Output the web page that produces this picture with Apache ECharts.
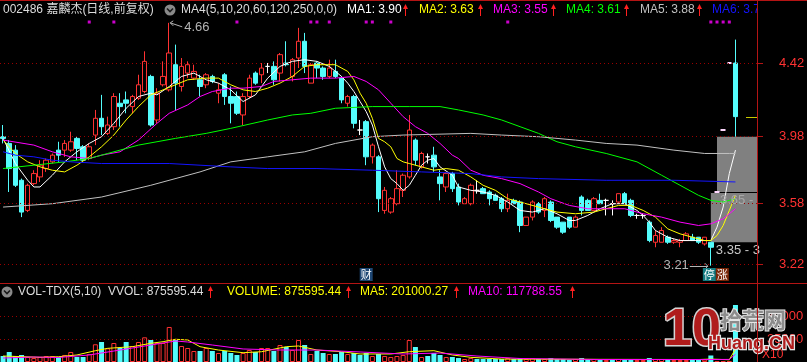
<!DOCTYPE html>
<html>
<head>
<meta charset="utf-8">
<title>002486 嘉麟杰</title>
<script src="https://cdn.jsdelivr.net/npm/echarts@6.0.0/dist/echarts.min.js"></script>
<style>
html,body{margin:0;padding:0;background:#000;overflow:hidden;}
#chart{width:807px;height:362px;}
</style>
</head>
<body>
<div id="chart"></div>
<script>
// ================= DATA =================
const slotCount = 123; // 120 trading days + 3 empty slots on the right

const opens = [3.98,3.94,3.90,3.72,3.54,3.70,3.74,3.79,3.83,3.90,
3.90,3.90,3.97,3.92,3.85,3.99,4.09,4.00,4.04,4.18,
4.20,4.16,4.21,4.25,4.34,4.08,4.29,4.26,4.41,4.28,
4.36,4.33,4.32,4.29,4.34,4.24,4.35,4.22,4.22,4.11,
4.22,4.36,4.35,4.40,4.40,4.36,4.42,4.34,4.45,4.55,
4.30,4.42,4.39,4.34,4.37,4.33,4.18,4.22,4.02,4.07,
3.86,3.86,3.54,3.53,3.58,3.66,3.74,3.96,3.80,3.86,
3.87,3.74,3.68,3.76,3.68,3.58,3.58,3.66,3.67,3.65,
3.63,3.61,3.55,3.60,3.59,3.45,3.50,3.58,3.54,3.59,
3.50,3.47,3.50,3.44,3.62,3.60,3.54,3.60,3.60,3.58,
3.59,3.64,3.60,3.51,3.51,3.47,3.35,3.35,3.38,3.35,
3.35,3.36,3.38,3.38,3.34,3.35,3.65,4.02,4.42,4.42];

const closes = [3.97,3.79,3.69,3.53,3.69,3.76,3.81,3.84,3.87,3.87,
3.94,3.95,3.91,3.84,3.92,4.09,4.04,4.05,4.22,4.16,
4.18,4.22,4.29,4.43,4.05,4.24,4.34,4.48,4.30,4.40,
4.41,4.37,4.28,4.35,4.31,4.26,4.22,4.18,4.12,4.22,
4.33,4.30,4.39,4.40,4.32,4.47,4.41,4.44,4.55,4.40,
4.41,4.39,4.34,4.39,4.34,4.20,4.22,4.06,4.02,3.86,
3.93,3.61,3.66,3.61,3.67,3.75,4.02,3.84,3.88,3.86,
3.80,3.70,3.76,3.67,3.59,3.61,3.69,3.66,3.64,3.61,
3.60,3.55,3.60,3.58,3.45,3.50,3.59,3.53,3.61,3.48,
3.44,3.41,3.44,3.50,3.54,3.54,3.61,3.58,3.60,3.58,
3.64,3.58,3.51,3.51,3.51,3.36,3.39,3.42,3.35,3.36,
3.36,3.40,3.36,3.35,3.38,3.32,3.65,4.02,4.42,4.10];

const lows = [3.94,3.65,3.68,3.50,3.53,3.69,3.71,3.77,3.82,3.83,
3.86,3.89,3.84,3.83,3.84,3.93,3.99,3.99,4.02,4.04,
4.12,4.12,4.20,4.24,4.04,4.06,4.28,4.25,4.14,4.25,
4.33,4.32,4.22,4.27,4.30,4.18,4.17,4.06,4.11,4.05,
4.21,4.29,4.30,4.36,4.29,4.31,4.40,4.31,4.39,4.36,
4.30,4.33,4.32,4.33,4.33,4.18,4.16,4.03,3.99,3.81,
3.82,3.53,3.52,3.52,3.57,3.62,3.73,3.81,3.79,3.82,
3.77,3.60,3.65,3.65,3.57,3.58,3.57,3.64,3.64,3.57,
3.60,3.53,3.53,3.58,3.41,3.45,3.48,3.52,3.50,3.47,
3.43,3.40,3.43,3.44,3.51,3.54,3.54,3.58,3.51,3.51,
3.58,3.58,3.50,3.49,3.49,3.35,3.32,3.35,3.34,3.34,
3.32,3.36,3.36,3.34,3.33,3.21,3.65,4.02,4.42,3.98];

const highs = [4.05,3.96,3.93,3.73,3.70,3.78,3.84,3.85,3.88,3.95,
3.96,4.01,3.98,3.93,3.94,4.14,4.23,4.10,4.24,4.24,
4.25,4.23,4.35,4.49,4.35,4.27,4.43,4.66,4.53,4.45,
4.43,4.41,4.35,4.36,4.35,4.30,4.36,4.28,4.25,4.24,
4.35,4.37,4.42,4.42,4.43,4.48,4.55,4.45,4.63,4.60,
4.42,4.43,4.40,4.44,4.44,4.34,4.23,4.23,4.08,4.08,
3.94,3.87,3.68,3.62,3.78,3.76,4.11,3.97,3.89,3.88,
3.92,3.78,3.77,3.77,3.70,3.62,3.70,3.72,3.68,3.66,
3.64,3.62,3.64,3.61,3.60,3.50,3.60,3.59,3.62,3.60,
3.50,3.47,3.50,3.51,3.63,3.61,3.62,3.64,3.61,3.60,
3.64,3.65,3.61,3.52,3.52,3.48,3.42,3.44,3.39,3.37,
3.37,3.41,3.40,3.38,3.38,3.35,3.65,4.02,4.42,4.56];

const volumes = [92000,154000,92000,108000,77000,61000,77000,92000,92000,77000,
108000,154000,77000,77000,123000,272000,307000,210000,292000,215000,
307000,246000,307000,379000,338000,292000,292000,538000,338000,246000,
215000,169000,169000,215000,169000,138000,169000,138000,108000,138000,
184000,154000,215000,215000,169000,261000,230000,184000,338000,261000,
123000,169000,138000,123000,123000,154000,123000,138000,108000,138000,
92000,123000,92000,77000,92000,108000,338000,230000,77000,92000,
138000,108000,77000,77000,61000,46000,61000,46000,46000,46000,
46000,46000,61000,46000,61000,46000,61000,46000,46000,61000,
46000,46000,31000,46000,61000,46000,46000,31000,31000,31000,
46000,46000,46000,31000,31000,61000,46000,46000,31000,31000,
31000,31000,31000,31000,38000,100000,10000,10000,10000,875595.44];

// moving-average lines: [day index, value]
const ma1Pts = [[0,3.97],[2,3.82],[4,3.72],[5,3.68],[6,3.68],[8,3.75],[10,3.83],[12,3.89],[14,3.94],[16,3.98],[18,4.06],[20,4.15],[22,4.22],[24,4.24],[25,4.23],[27,4.28],[29,4.34],[31,4.36],[33,4.32],[35,4.30],[37,4.26],[39,4.19],[41,4.23],[43,4.33],[45,4.40],[47,4.43],[49,4.44],[51,4.43],[53,4.40],[55,4.34],[56,4.30],[57,4.25],[58,4.19],[59,4.13],[60,4.05],[61,3.92],[62,3.80],[63,3.73],[64,3.70],[65,3.66],[66,3.69],[67,3.75],[68,3.81],[69,3.84],[70,3.85],[71,3.80],[73,3.75],[74,3.68],[76,3.66],[78,3.65],[80,3.63],[82,3.59],[84,3.54],[86,3.53],[88,3.55],[90,3.52],[92,3.48],[93,3.48],[95,3.51],[97,3.55],[99,3.58],[101,3.58],[103,3.54],[104,3.51],[105,3.47],[106,3.42],[108,3.38],[110,3.36],[113,3.36],[115,3.36],[116,3.44],[117,3.56],[118,3.76],[119,3.90]];
const ma2Pts = [[0,3.96],[2,3.88],[4,3.83],[6,3.80],[8,3.78],[10,3.77],[12,3.81],[14,3.86],[16,3.92],[18,3.99],[20,4.08],[22,4.16],[24,4.23],[26,4.26],[28,4.29],[30,4.32],[33,4.33],[35,4.33],[37,4.29],[39,4.26],[41,4.25],[43,4.27],[45,4.30],[47,4.34],[49,4.40],[51,4.41],[54,4.41],[56,4.37],[57,4.32],[58,4.24],[59,4.18],[60,4.09],[61,3.97],[62,3.95],[63,3.92],[64,3.85],[65,3.83],[66,3.82],[68,3.80],[70,3.78],[72,3.79],[74,3.78],[76,3.74],[78,3.69],[80,3.66],[82,3.61],[84,3.59],[87,3.56],[90,3.53],[93,3.52],[96,3.53],[98,3.55],[100,3.57],[102,3.57],[104,3.54],[106,3.50],[108,3.43],[110,3.40],[112,3.38],[114,3.36],[115,3.36],[116,3.39],[117,3.45],[118,3.54],[119,3.63]];
const ma3Pts = [[0,3.96],[5,3.93],[8,3.89],[11,3.86],[14,3.85],[16,3.87],[19,3.89],[22,3.96],[25,4.06],[27,4.12],[30,4.17],[32,4.22],[34,4.25],[37,4.27],[39,4.27],[42,4.28],[44,4.31],[47,4.32],[50,4.33],[54,4.33],[57,4.34],[59,4.31],[61,4.26],[63,4.18],[65,4.10],[67,4.04],[69,4.00],[71,3.94],[73,3.87],[74,3.85],[76,3.78],[78,3.75],[81,3.73],[84,3.70],[87,3.65],[89,3.61],[92,3.57],[95,3.55],[98,3.55],[101,3.55],[104,3.52],[107,3.50],[110,3.47],[113,3.45],[115,3.46],[117,3.49],[119,3.55]];
const ma4Pts = [[0,3.79],[5,3.81],[10,3.83],[14,3.85],[17,3.88],[22,3.93],[28,3.97],[33,4.00],[37,4.03],[43,4.08],[47,4.11],[50,4.12],[54,4.15],[60,4.16],[66,4.16],[71,4.16],[74,4.14],[78,4.11],[81,4.08],[84,4.04],[87,4.00],[90,3.95],[93,3.92],[98,3.88],[103,3.83],[107,3.75],[110,3.69],[113,3.63],[115,3.60],[117,3.59],[119,3.61]];
const ma5Pts = [[0,3.56],[8,3.58],[16,3.62],[24,3.69],[32,3.77],[37,3.83],[43,3.86],[49,3.89],[54,3.94],[60,3.98],[65,3.99],[76,4.00],[81,3.99],[87,3.98],[93,3.96],[98,3.94],[103,3.93],[109,3.90],[114,3.88],[118,3.88],[119,3.88]];
const ma6Pts = [[0,3.89],[2,3.87],[5,3.86],[8,3.84],[11,3.83],[16,3.82],[27,3.82],[32,3.81],[37,3.80],[43,3.79],[51,3.79],[60,3.78],[68,3.77],[76,3.76],[81,3.74],[87,3.73],[98,3.72],[109,3.72],[119,3.71]];

const volMa5Pts = [[0,92000],[6,72000],[9,81000],[12,108000],[15,174000],[17,210000],[21,235000],[24,287000],[26,312000],[28,349000],[30,338000],[32,235000],[35,184000],[39,143000],[42,158000],[46,235000],[48,246000],[51,184000],[55,158000],[58,123000],[63,123000],[66,158000],[70,174000],[73,108000],[76,72000],[81,45000],[97,41000],[113,38000],[115,45000],[118,34000],[119,201000.27]];
const volMa10Pts = [[0,61000],[5,77000],[9,69000],[14,108000],[19,184000],[24,261000],[28,323000],[30,307000],[34,261000],[39,200000],[45,184000],[51,184000],[58,154000],[65,123000],[71,138000],[77,92000],[84,54000],[97,38000],[114,38000],[118,40000],[119,117788.55]];

const signalIdx = [14,18,38,50,51,53,59,60,63,82,115,116,117,118];
const gapZones = [[116,3.98,3.65],[115,3.65,3.35]]; // [start day, upper price, lower price]
const priceTicks = [3.22,3.58,3.98,4.42];
const volTicks = [350000,700000];

const titleText = '002486 嘉麟杰(日线,前复权)';
const maTitle = 'MA4(5,10,20,60,120,250,0,0)';
const maLabels = ['MA1: 3.90','MA2: 3.63','MA3: 3.55','MA4: 3.61','MA5: 3.88','MA6: 3.7'];
const volTitle = 'VOL-TDX(5,10)';
const volLabels = ['VVOL: 875595.44','VOLUME: 875595.44','MA5: 201000.27','MA10: 117788.55'];

// ================= STYLE =================
const RED = '#ff3232', CYAN = '#54fcfc', AXIS = '#b41414', DOT = '#9a0000';
const maColors = ['#ffffff','#ffff00','#ff00ff','#00ff00','#c0c0c0','#1414ff'];
const FONT = "12px 'Liberation Sans','Noto Sans CJK SC',sans-serif";
const CJK = "'Noto Sans CJK SC','Liberation Sans',sans-serif";

const chart = echarts.init(document.getElementById('chart'), null, {renderer: 'canvas'});
const cats = Array.from({length: slotCount}, (_, i) => String(i));

const candleData = opens.map((o, i) => {
  const v = [o, closes[i], lows[i], highs[i]];
  if (o === closes[i] && lows[i] === highs[i]) {
    return {value: v, itemStyle: {borderColor: '#ffd8ff', borderColor0: '#ffd8ff', borderColorDoji: '#ffd8ff', borderWidth: 2}};
  }
  return v;
});
const isUp = i => closes[i] > opens[i] || (closes[i] === opens[i] && (i === 0 || closes[i] >= closes[i - 1]));
const volData = volumes.map((v, i) => ({
  value: v,
  itemStyle: isUp(i) ? {color: '#000', borderColor: RED, borderWidth: 1} : {color: CYAN, borderColor: CYAN, borderWidth: 0}
}));

const dotLine = ticks => ({
  silent: true, symbol: ['none', 'none'], label: {show: false}, animation: false,
  lineStyle: {type: [1, 3], color: DOT, width: 1},
  emphasis: {disabled: true},
  data: ticks.map(v => ({yAxis: v}))
});

const maSets = [ma1Pts, ma2Pts, ma3Pts, ma4Pts, ma5Pts, ma6Pts];

const option = {
  backgroundColor: '#000',
  animation: false,
  grid: [
    {left: 0, right: 50, top: 20, height: 260, containLabel: false, outerBoundsMode: 'none'},
    {left: 0, right: 50, top: 300, height: 62, containLabel: false, outerBoundsMode: 'none'}
  ],
  xAxis: [0, 1].map(g => ({
    type: 'category', gridIndex: g, data: cats, boundaryGap: true,
    axisLine: {show: false}, axisTick: {show: false}, axisLabel: {show: false}, splitLine: {show: false}
  })),
  yAxis: [
    {type: 'value', gridIndex: 0, position: 'right', min: 3.1245, max: 4.677,
     axisLine: {show: true, lineStyle: {color: AXIS}},
     axisTick: {show: true, length: 6, customValues: priceTicks, lineStyle: {color: AXIS}},
     axisLabel: {customValues: priceTicks, color: RED, fontSize: 13, margin: 22, fontFamily: 'Liberation Sans', formatter: v => v.toFixed(2)},
     splitLine: {show: false}},
    {type: 'value', gridIndex: 1, position: 'right', min: 0, max: 952400,
     axisLine: {show: true, lineStyle: {color: AXIS}},
     axisTick: {show: true, length: 6, customValues: volTicks, lineStyle: {color: AXIS}},
     axisLabel: {customValues: volTicks, color: RED, fontSize: 13, margin: 10, fontFamily: 'Liberation Sans', formatter: v => String(Math.round(v / 10))},
     splitLine: {show: false}}
  ],
  series: [
    {type: 'candlestick', xAxisIndex: 0, yAxisIndex: 0, data: candleData, barWidth: 5, z: 3,
     itemStyle: {color: '#000', color0: CYAN, borderColor: RED, borderColor0: CYAN, borderColorDoji: '#ffffff', borderWidth: 1},
     emphasis: {disabled: true},
     markLine: dotLine(priceTicks)},
    ...maSets.map((d, k) => ({
      type: 'line', xAxisIndex: 0, yAxisIndex: 0, data: d, symbol: 'none', showSymbol: false, z: 4, silent: true,
      lineStyle: {width: 1, color: maColors[k]}, itemStyle: {color: maColors[k]}
    })),
    {type: 'scatter', xAxisIndex: 0, yAxisIndex: 0, symbol: 'rect', symbolSize: 3, z: 5, silent: true,
     itemStyle: {color: '#ff00ff'}, data: signalIdx.map(i => [i, 4.665])},
    {type: 'bar', xAxisIndex: 1, yAxisIndex: 1, data: volData, barWidth: 5, z: 3, silent: true,
     markLine: dotLine(volTicks)},
    {type: 'line', xAxisIndex: 1, yAxisIndex: 1, data: volMa5Pts, symbol: 'none', z: 4, silent: true, lineStyle: {width: 1, color: '#ffff00'}},
    {type: 'line', xAxisIndex: 1, yAxisIndex: 1, data: volMa10Pts, symbol: 'none', z: 4, silent: true, lineStyle: {width: 1, color: '#ff00ff'}}
  ]
};
chart.setOption(option);

// ================= ANNOTATIONS =================
const px = (i, v) => chart.convertToPixel({gridIndex: 0}, [i, v]);
const W = chart.getWidth(), H = chart.getHeight();
const plotRight = W - 50;
const G = [];
const txt = (x, y, text, fill, extra) => G.push({type: 'text', x, y, z: 100, silent: true,
  style: Object.assign({text, fill, font: FONT, verticalAlign: 'middle', align: 'left'}, extra || {})});
const ln = (x1, y1, x2, y2, stroke, w, z) => G.push({type: 'line', z: z || 100, silent: true,
  shape: {x1, y1, x2, y2}, style: {stroke, lineWidth: w || 1}});
const rc = (x, y, w, h, fill, z) => G.push({type: 'rect', z: z || 100, silent: true, shape: {x, y, width: w, height: h}, style: {fill}});
const upArrow = (x, yc) => {
  ln(x + 0.5, yc - 4, x + 0.5, yc + 6, '#ff2020', 1);
  G.push({type: 'polygon', z: 100, silent: true, shape: {points: [[x - 2, yc - 1], [x + 0.5, yc - 6], [x + 3, yc - 1]]}, style: {fill: '#ff2020'}});
};
const chevron = (cx, cy) => {
  G.push({type: 'circle', z: 100, silent: true, shape: {cx, cy, r: 5.5}, style: {fill: '#8a8a8a'}});
  G.push({type: 'polyline', z: 101, silent: true, shape: {points: [[cx - 3, cy - 1.5], [cx, cy + 1.5], [cx + 3, cy - 1.5]]}, style: {stroke: '#1a1a1a', lineWidth: 1.6, fill: null}});
};

// frame lines
ln(0, 0.5, W, 0.5, AXIS, 1, 110);
ln(0, 283.5, W, 283.5, AXIS, 1, 110);

// title row
txt(3, 10, titleText, '#dcdcdc', {font: "12px 'Liberation Sans','Noto Sans CJK SC',sans-serif"});
chevron(170, 10);
txt(181, 10, maTitle, '#dcdcdc');
const maX = [347, 419, 493, 566, 640, 712];
const arX = [405, 480, 553, 626, 699];
maLabels.forEach((t, k) => txt(maX[k], 10, t, maColors[k]));
arX.forEach(x => upArrow(x, 10));
rc(plotRight + 1, 1, W - plotRight - 1, 18, '#000', 105);

// volume title row
chevron(7, 292);
txt(18, 292, volTitle, '#dcdcdc');
const vX = [108, 227, 360, 468];
const vC = ['#dcdcdc', '#ffff00', '#ffff00', '#ff00ff'];
const vA = [210, 348, 456, 572];
volLabels.forEach((t, k) => { txt(vX[k], 292, t, vC[k]); upArrow(vA[k], 292); });

// right axis full-height line
ln(plotRight + 0.5, 0, plotRight + 0.5, H, AXIS, 1, 110);

// gap boxes
gapZones.forEach(([d, up, lo]) => {
  const a = px(d, up), b = px(d, lo);
  rc(a[0], a[1], plotRight - a[0], b[1] - a[1], '#808080', 1);
});
{
  const a = px(gapZones[1][0], gapZones[1][1]);
  ln(a[0], Math.round(a[1]) + 0.5, plotRight, Math.round(a[1]) + 0.5, '#000', 1, 1.5);
}
txt(px(116, 3.6)[0] + 3, px(116, 3.6)[1], '3.65 -', '#a8a8a8', {font: "13px 'Liberation Sans',sans-serif"});
txt(px(115, 3.3)[0] + 5, px(115, 3.3)[1], '3.35 - 3', '#c8c8c8', {font: "13px 'Liberation Sans',sans-serif"});

// last close marker
{
  const c = px(119, closes[119]);
  ln(plotRight - 11, Math.round(c[1]) + 0.5, plotRight, Math.round(c[1]) + 0.5, '#c8c800', 1, 6);
}

// high / low labels
{
  const hiIdx = highs.indexOf(Math.max(...highs));
  const p = px(hiIdx, highs[hiIdx]);
  ln(p[0] + 1, p[1], p[0] + 13, p[1] + 4, '#b4b4b4', 1);
  G.push({type: 'polyline', z: 100, silent: true, shape: {points: [[p[0] + 4, p[1] - 2], [p[0] + 1, p[1]], [p[0] + 4, p[1] + 3]]}, style: {stroke: '#b4b4b4', lineWidth: 1, fill: null}});
  txt(p[0] + 15, p[1] + 5, highs[hiIdx].toFixed(2), '#b4b4b4', {font: "13px 'Liberation Sans',sans-serif"});

  const loIdx = lows.indexOf(Math.min(...lows.slice(0, 116)));
  const q = px(loIdx, lows[loIdx]);
  ln(q[0] - 21, Math.round(q[1]) + 0.5, q[0] - 3, Math.round(q[1]) + 0.5, '#b4b4b4', 1);
  G.push({type: 'polyline', z: 100, silent: true, shape: {points: [[q[0] - 6, q[1] - 2.5], [q[0] - 3, q[1] + 0.5], [q[0] - 6, q[1] + 3.5]]}, style: {stroke: '#b4b4b4', lineWidth: 1, fill: null}});
  txt(q[0] - 22, q[1], lows[loIdx].toFixed(2), '#b4b4b4', {align: 'right', font: "13px 'Liberation Sans',sans-serif"});
}

// event tags
const tag = (x, ch, bg) => {
  rc(x, 268, 13, 13, bg, 100);
  txt(x + 6.5, 274.5, ch, '#ffffff', {align: 'center', font: "11px " + CJK});
};
tag(px(59, 3.5)[0] - 6.5, '财', '#1d4673');
tag(px(115, 3.5)[0] - 8, '停', '#137a80');
tag(px(115, 3.5)[0] + 5, '涨', '#7a2608');

// volume unit
txt(762, 355, 'X10', RED, {font: "12px 'Liberation Sans',sans-serif"});

// watermark
txt(663, 331, '10', '#b01c1c', {font: "bold 52px 'Liberation Sans',sans-serif", stroke: '#d4d4d4', lineWidth: 3, strokeFirst: true});
txt(720, 320, '拾荒网', '#8c8c8c', {font: "bold 22px " + CJK, stroke: '#e4e4e4', lineWidth: 2, strokeFirst: true});
txt(708, 344, 'Huang.CN', '#b01c1c', {font: "bold 18px 'Liberation Sans',sans-serif", stroke: '#e4e4e4', lineWidth: 2.5, strokeFirst: true});

chart.setOption({graphic: {elements: G}});
</script>
</body>
</html>
